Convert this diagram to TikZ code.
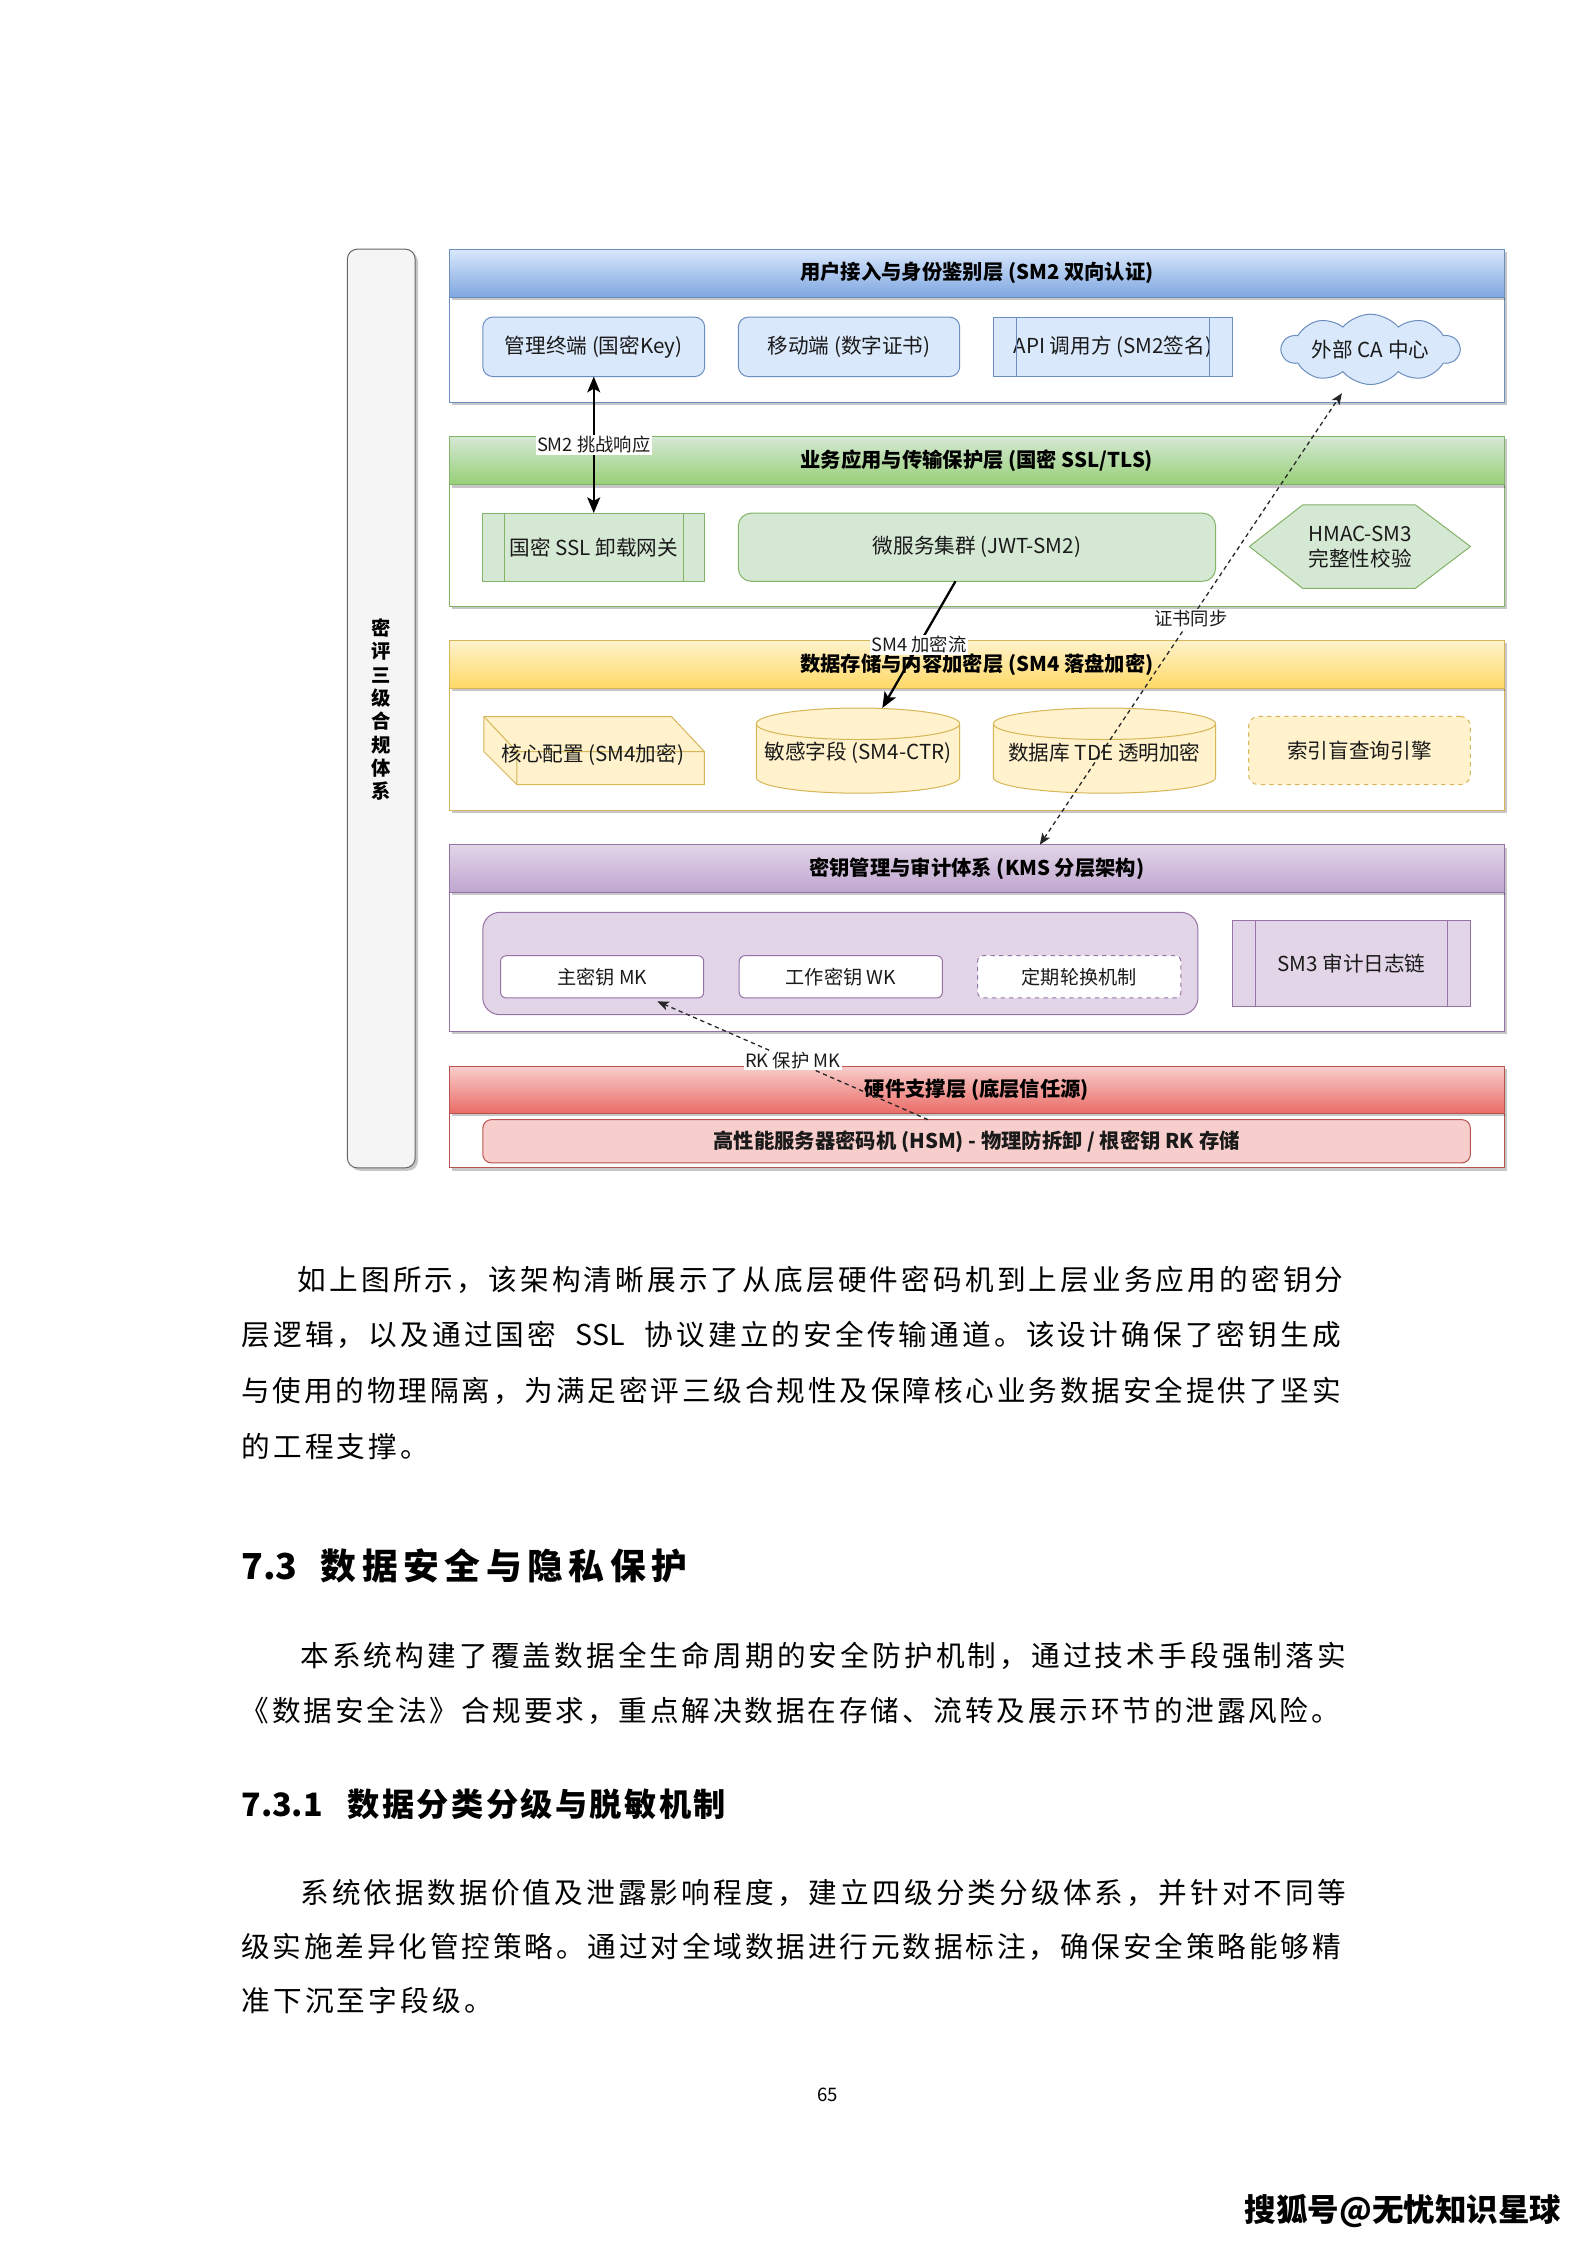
\documentclass[tikz,border=0pt]{standalone}
\usepackage{fontspec}
\setmainfont{Noto Sans CJK SC}
\usetikzlibrary{shapes.geometric,shapes.symbols,arrows.meta,shadows}
\definecolor{bStroke}{HTML}{6C8EBF}\definecolor{bFill}{HTML}{DAE8FC}\definecolor{bDark}{HTML}{7EA6E0}
\definecolor{gStroke}{HTML}{82B366}\definecolor{gFill}{HTML}{D5E8D4}\definecolor{gDark}{HTML}{97D077}
\definecolor{yStroke}{HTML}{D6B656}\definecolor{yFill}{HTML}{FFF2CC}\definecolor{yDark}{HTML}{FFD966}
\definecolor{pStroke}{HTML}{9673A6}\definecolor{pFill}{HTML}{E1D5E7}\definecolor{pDark}{HTML}{BFA6CF}
\definecolor{rStroke}{HTML}{B85450}\definecolor{rFill}{HTML}{F8CECC}\definecolor{rDark}{HTML}{EA6B66}
\definecolor{barFill}{HTML}{F5F5F5}\definecolor{barStroke}{HTML}{666666}
\definecolor{txt}{HTML}{1A1A1A}
\makeatletter
\newcommand\spreadtext[2]{\@tfor\sp@c:=#2\do{\makebox[#1][c]{\sp@c}}}
\makeatother
\newcommand\proclines[3]{%
  \draw[#2, line width=0.7pt] ([xshift=#3]#1.north west) -- ([xshift=#3]#1.south west);
  \draw[#2, line width=0.7pt] ([xshift=-#3]#1.north east) -- ([xshift=-#3]#1.south east);}
\newcommand\cylshape[5]{%
  \pgfmathsetmacro\rxx{(#2-#1)/2}%
  \draw[draw=yStroke, fill=yFill, line width=0.7pt] (#1,#3+#5) -- (#1,#4-#5)
    arc[start angle=180,end angle=360,x radius=\rxx pt,y radius=#5pt] -- (#2,#3+#5)
    arc[start angle=0,end angle=180,x radius=\rxx pt,y radius=#5pt] -- cycle;
  \draw[yStroke, line width=0.7pt] (#1,#3+#5) arc[start angle=180,end angle=360,x radius=\rxx pt,y radius=#5pt];}
\tikzset{
  every node/.style={inner sep=0pt, outer sep=0pt, text=txt},
  shd/.style={drop shadow={shadow xshift=2pt,shadow yshift=-2pt,opacity=0.22,fill=black}},
  hdr/.style={draw=#1Stroke, line width=0.7pt, top color=#1Fill, bottom color=#1Dark,
    minimum width=736.5pt, font=\bfseries\fontsize{14.2}{17}\selectfont, text=black, shd},
  frame/.style={draw=#1Stroke, line width=0.7pt, fill=white, minimum width=736.5pt, shd},
  box/.style={draw=#1Stroke, fill=#1Fill, line width=0.7pt, align=center,
    font=\fontsize{14.4}{17}\selectfont},
  small/.style={font=\fontsize{13.4}{15}\selectfont},
  lbl/.style={fill=white, inner sep=1pt, font=\fontsize{12.8}{14}\selectfont},
  solidarr/.style={line width=1.6pt, black},
  dasharr/.style={line width=0.9pt, black!85, dash pattern=on 3pt off 2.5pt},
  bodytxt/.style={anchor=west, font=\fontsize{20}{24}\selectfont, text=black},
}
\begin{document}
\begin{tikzpicture}[x=1pt,y=-1pt]
\useasboundingbox (0,0) rectangle (1108,1568);
\fill[white] (0,0) rectangle (1108,1568);

% left compliance bar
\node[draw=barStroke, fill=barFill, line width=0.7pt, rounded corners=7pt, shd,
  minimum width=47.4pt, minimum height=641.7pt] (bar) at (266.3,494.85) {};
\node[font=\bfseries\fontsize{13.5}{16.3}\selectfont, align=center, text=black] (bartxt) at (266.3,495.7)
  {密\\评\\三\\级\\合\\规\\体\\系};

% ---------- layer 1 (blue)
\node[frame=b, minimum height=73.3pt] (L1b) at (682.25,244.25) {};
\node[hdr=b, minimum height=33.6pt] (L1h) at (682.25,190.8) {用户接入与身份鉴别层 (SM2 双向认证)};
\node[box=b, rounded corners=7pt, minimum width=155pt, minimum height=41.5pt] (n11) at (414.7,242.25) {管理终端 (国密Key)};
\node[box=b, rounded corners=7pt, minimum width=154.6pt, minimum height=41.5pt] (n12) at (593,242.25) {移动端 (数字证书)};
\node[box=b, minimum width=166.9pt, minimum height=41.5pt] (n13) at (777.25,242.25) {API 调用方 (SM2签名)};
\proclines{n13}{bStroke}{16pt}
\node[box=b, cloud, cloud puffs=10, cloud puff arc=100, aspect=3.4, minimum width=124pt, minimum height=40pt] (n14) at (957.25,244) {外部 CA 中心};

% ---------- layer 2 (green)
\node[frame=g, minimum height=85pt] (L2b) at (682.25,381.1) {};
\node[hdr=g, minimum height=33.7pt] (L2h) at (682.25,321.75) {业务应用与传输保护层 (国密 SSL/TLS)};
\node[box=g, minimum width=155pt, minimum height=47.6pt] (n21) at (414.7,382.2) {国密 SSL 卸载网关};
\proclines{n21}{gStroke}{15pt}
\node[box=g, rounded corners=9pt, minimum width=333.3pt, minimum height=47.6pt] (n22) at (682.35,382.2) {微服务集群 (JWT-SM2)};
\draw[draw=gStroke, fill=gFill, line width=0.7pt] (872.6,381.7) -- (909.9,352.6) -- (988.5,352.6) -- (1027,381.7) -- (988.5,411) -- (909.9,411) -- cycle;
\node[align=center, font=\fontsize{14.4}{17.5}\selectfont] (hx) at (950,382) {HMAC-SM3\\完整性校验};

% ---------- layer 3 (yellow)
\node[frame=y, minimum height=85.4pt] (L3b) at (682.25,523.3) {};
\node[hdr=y, minimum height=33.3pt] (L3h) at (682.25,463.95) {数据存储与内容加密层 (SM4 落盘加密)};
\draw[draw=yStroke, fill=yFill, line width=0.7pt] (338,500.5) -- (469,500.5) -- (492,525) -- (492,548) -- (361,548) -- (338,525) -- cycle;
\draw[yStroke, line width=0.7pt] (338,500.5) -- (361,525) -- (492,525) (361,525) -- (361,548);
\node[font=\fontsize{14.4}{17}\selectfont] (n31) at (414,527) {核心配置 (SM4加密)};
\cylshape{528.2}{670.3}{494.5}{554}{11}
\node[minimum width=142pt, minimum height=59.5pt] (n32) at (599.25,524.25) {};
\node[font=\fontsize{14.4}{17}\selectfont] (n32t) at (599.25,526) {敏感字段 (SM4-CTR)};
\cylshape{693.8}{849}{494.5}{554}{11}
\node[font=\fontsize{14.4}{17}\selectfont] (n33) at (771.4,526) {数据库 TDE 透明加密};
\node[box=y, dashed, rounded corners=7pt, minimum width=155pt, minimum height=47.6pt] (n34) at (949.5,524.2) {索引盲查询引擎};

% ---------- layer 4 (purple)
\node[frame=p, minimum height=97pt] (L4b) at (682.25,671.8) {};
\node[hdr=p, minimum height=33.3pt] (L4h) at (682.25,606.65) {密钥管理与审计体系 (KMS 分层架构)};
\node[draw=pStroke, fill=pFill, line width=0.7pt, rounded corners=12pt, minimum width=499.5pt, minimum height=71.5pt] (kc) at (586.95,672.95) {};
\node[draw=pStroke, fill=white, line width=0.7pt, rounded corners=4pt, minimum width=141.9pt, minimum height=29.5pt, small] (n41) at (420.55,682.25) {主密钥 MK};
\node[draw=pStroke, fill=white, line width=0.7pt, rounded corners=4pt, minimum width=141.9pt, minimum height=29.5pt, small] (n42) at (587.25,682.25) {工作密钥 WK};
\node[draw=pStroke, fill=white, line width=0.7pt, dashed, rounded corners=4pt, minimum width=142pt, minimum height=29.5pt, small] (n43) at (753.8,682.25) {定期轮换机制};
\node[box=p, minimum width=166.3pt, minimum height=60.1pt] (n44) at (943.85,672.85) {SM3 审计日志链};
\proclines{n44}{pStroke}{16pt}

% ---------- layer 5 (red)
\node[frame=r, minimum height=37.9pt] (L5b) at (682.25,796.75) {};
\node[hdr=r, minimum height=33.1pt] (L5h) at (682.25,761.25) {硬件支撑层 (底层信任源)};
\node[box=r, rounded corners=6pt, minimum width=689.8pt, minimum height=30.2pt, font=\bfseries\fontsize{14.2}{17}\selectfont] (n51) at (682.1,797.1) {高性能服务器密码机 (HSM) - 物理防拆卸 / 根密钥 RK 存储};

% ---------- connectors
\draw[solidarr, {Stealth[length=11pt,width=9pt,inset=2.5pt]}-{Stealth[length=11pt,width=9pt,inset=2.5pt]}] (n11.south) -- node[lbl] (e1) {SM2 挑战响应} (n21.north);
\draw[solidarr, -{Stealth[length=11pt,width=9pt,inset=2.5pt]}] ([xshift=-15pt]n22.south) -- node[lbl, pos=0.5] (e2) {SM4 加密流} ([xshift=17pt]n32.north);
\draw[dasharr, {Stealth[length=8pt,width=6.5pt,inset=2pt]}-{Stealth[length=8pt,width=6.5pt,inset=2pt]}] ([xshift=44pt]L4h.north) -- node[lbl, pos=0.5] (e3) {证书同步} ([xshift=-20pt,yshift=-6pt]n14.south);
\draw[dasharr, -{Stealth[length=8pt,width=6.5pt,inset=2pt]}] ([xshift=-34pt]n51.north) -- node[lbl, pos=0.5] (e4) {RK 保护 MK} ([xshift=38.6pt,yshift=-2.4pt]n41.south);

% ---------- page text
\node[bodytxt] (p1a) at (206.9,893.7) {\spreadtext{22.2pt}{如上图所示，该架构清晰展示了从底层硬件密码机到上层业务应用的密钥分}};
\node[bodytxt] (p1b) at (167.6,932.5) {\spreadtext{22.2pt}{层逻辑，以及通过国密}\makebox[59.6pt]{SSL}\spreadtext{22.2pt}{协议建立的安全传输通道。该设计确保了密钥生成}};
\node[bodytxt] (p1c) at (167.6,971.3) {\spreadtext{22pt}{与使用的物理隔离，为满足密评三级合规性及保障核心业务数据安全提供了坚实}};
\node[bodytxt] (p1d) at (167.6,1010) {\spreadtext{22.2pt}{的工程支撑。}};

\node[anchor=west, font=\bfseries\fontsize{25}{30}\selectfont, text=black] (h1) at (168.6,1093.8) {\makebox[53.4pt][l]{7.3}\spreadtext{28.9pt}{数据安全与隐私保护}};

\node[bodytxt] (p2a) at (208.7,1156.7) {\spreadtext{22.2pt}{本系统构建了覆盖数据全生命周期的安全防护机制，通过技术手段强制落实}};
\node[bodytxt] (p2b) at (167,1195) {\spreadtext{22pt}{《数据安全法》合规要求，重点解决数据在存储、流转及展示环节的泄露风险。}};

\node[anchor=west, font=\bfseries\fontsize{22.5}{27}\selectfont, text=black] (h2) at (168.6,1260.2) {\makebox[73.2pt][l]{7.3.1}\spreadtext{24.2pt}{数据分类分级与脱敏机制}};

\node[bodytxt] (p3a) at (208.7,1321.9) {\spreadtext{22.2pt}{系统依据数据价值及泄露影响程度，建立四级分类分级体系，并针对不同等}};
\node[bodytxt] (p3b) at (167.6,1359.5) {\spreadtext{22pt}{级实施差异化管控策略。通过对全域数据进行元数据标注，确保安全策略能够精}};
\node[bodytxt] (p3c) at (167.6,1397) {\spreadtext{22.2pt}{准下沉至字段级。}};

\node[font=\fontsize{13}{15}\selectfont, text=black] (pg) at (578,1463) {65};
\node[anchor=west, font=\bfseries\fontsize{22}{26}\selectfont, text=black] (sohu) at (869.5,1544.2) {搜狐号@无忧知识星球};
\end{tikzpicture}
\end{document}
